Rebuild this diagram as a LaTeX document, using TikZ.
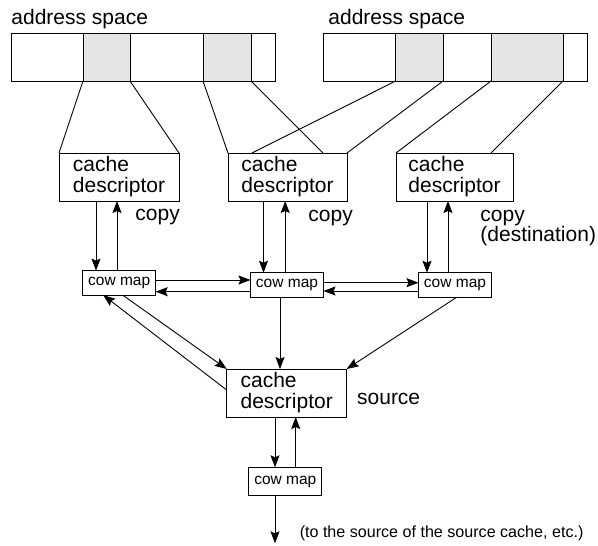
\documentclass[tikz,border=0pt]{standalone}
\usepackage{fontspec}
\setmainfont{Liberation Sans}
\usetikzlibrary{arrows.meta}
\begin{document}
\begin{tikzpicture}[x=1pt,y=-1pt, line width=0.9pt,
  arr/.style={-{Stealth[length=12pt,width=9pt,inset=2pt]}},
  cdbox/.style={draw, minimum height=48pt, inner xsep=4pt, inner ysep=0pt, outer sep=0pt, align=left, font=\fontsize{21}{21}\selectfont},
  cow/.style={draw, minimum width=73pt, minimum height=24.5pt, inner sep=0pt, outer sep=0pt, font=\fontsize{15.5}{16}\selectfont},
  lbl/.style={anchor=base west, inner sep=0pt, font=\fontsize{21}{21}\selectfont},
  shadecol/.style={fill=black!10}]
\useasboundingbox (0,0) rectangle (598,546);

% address spaces
\fill[shadecol] (83,33) rectangle (130,81);
\fill[shadecol] (203,33) rectangle (251,81);
\draw (11,33) rectangle (275,81);
\draw (83,33) -- (83,81) (130,33) -- (130,81) (203,33) -- (203,81) (251,33) -- (251,81);
\fill[shadecol] (395.7,33) rectangle (443,81);
\fill[shadecol] (491,33) rectangle (563,81);
\draw (323,33) rectangle (587,81);
\draw (395.7,33) -- (395.7,81) (443,33) -- (443,81) (491,33) -- (491,81) (563,33) -- (563,81);
\coordinate (a1) at (83,81);
\coordinate (a2) at (130,81);
\coordinate (a3) at (203,81);
\coordinate (a4) at (251,81);
\coordinate (b1) at (395.7,81);
\coordinate (b2) at (443,81);
\coordinate (b3) at (491,81);
\coordinate (b4) at (563,81);

\node[lbl] (as1) at (11,24) {address space};
\node[lbl] (as2) at (328,24) {address space};

% cache descriptors
\node[cdbox, minimum width=120pt] (cd1) at (119,177) {cache\\descriptor};
\node[cdbox, minimum width=119pt] (cd2) at (287.5,177) {cache\\descriptor};
\node[cdbox, minimum width=117pt] (cd3) at (454.5,177) {cache\\descriptor};
\node[cdbox, minimum width=120pt] (src) at (286.7,393) {cache\\descriptor};

\node[lbl] (c1) at (135,220) {copy};
\node[lbl] (c2) at (308,221) {copy};
\node[lbl] (c3) at (480,221) {copy};
\node[lbl] (c3b) at (480,241.7) {(destination)};
\node[lbl] (srcl) at (356.7,404.3) {source};
\node[lbl, font=\fontsize{16.1}{17}\selectfont] (note) at (299.3,537) {(to the source of the source cache, etc.)};

% cow maps
\node[cow] (cm1) at (119.2,282.85) {cow map};
\node[cow] (cm2) at (287,285) {cow map};
\node[cow] (cm3) at (455,285) {cow map};
\node[cow, minimum height=28.4pt] (cm4) at (285.35,481.5) {cow map};

% address space -> descriptors
\draw (a1) -- (cd1.north west);
\draw (a2) -- (cd1.north east);
\draw (a3) -- (cd2.north west);
\draw (a4) -- ([xshift=95pt]cd2.north west);
\draw (b1) -- ([xshift=24pt]cd2.north west);
\draw (b2) -- (cd2.north east);
\draw (b3) -- (cd3.north west);
\draw (b4) -- ([xshift=95pt]cd3.north west);

% descriptors <-> cow maps
\coordinate (d1) at ([xshift=-23pt]cd1.south);
\coordinate (u1) at ([xshift=-2pt]cd1.south);
\draw[arr] (d1) -- (d1 |- cm1.north);
\draw[arr] (u1 |- cm1.north) -- (u1);
\coordinate (d2) at ([xshift=-24pt]cd2.south);
\coordinate (u2) at ([xshift=-2.3pt]cd2.south);
\draw[arr] (d2) -- (d2 |- cm2.north);
\draw[arr] (u2 |- cm2.north) -- (u2);
\coordinate (d3) at ([xshift=-27.5pt]cd3.south);
\coordinate (u3) at ([xshift=-6.5pt]cd3.south);
\draw[arr] (d3) -- (d3 |- cm3.north);
\draw[arr] (u3 |- cm3.north) -- (u3);

% cow map chain
\coordinate (h1) at ([yshift=2.85pt]cm1.east);
\draw[arr] (h1) -- (h1 -| cm2.west);
\coordinate (h2) at ([yshift=-6.7pt]cm2.west);
\draw[arr] (h2) -- (h2 -| cm1.east);
\coordinate (h3) at ([yshift=2.3pt]cm2.east);
\draw[arr] (h3) -- (h3 -| cm3.west);
\coordinate (h4) at ([yshift=-6pt]cm3.west);
\draw[arr] (h4) -- (h4 -| cm2.east);

% cow maps -> source
\draw[arr] ([xshift=3.5pt]cm1.south) -- (src.north west);
\draw[arr] ([yshift=3pt]src.west) -- ([xshift=-16pt]cm1.south);
\coordinate (v2) at ([xshift=-7pt]cm2.south);
\draw[arr] (v2) -- (v2 |- src.north);
\draw[arr] ([xshift=1.7pt]cm3.south) -- (src.north east);

% source <-> bottom cow map
\coordinate (d4) at ([xshift=-11.7pt]src.south);
\coordinate (u4) at ([xshift=9pt]src.south);
\draw[arr] (d4) -- (d4 |- cm4.north);
\draw[arr] (u4 |- cm4.north) -- (u4);
\coordinate (fin) at (275,543.3);
\draw[arr] (d4 |- cm4.south) -- (fin);
\end{tikzpicture}
\end{document}
